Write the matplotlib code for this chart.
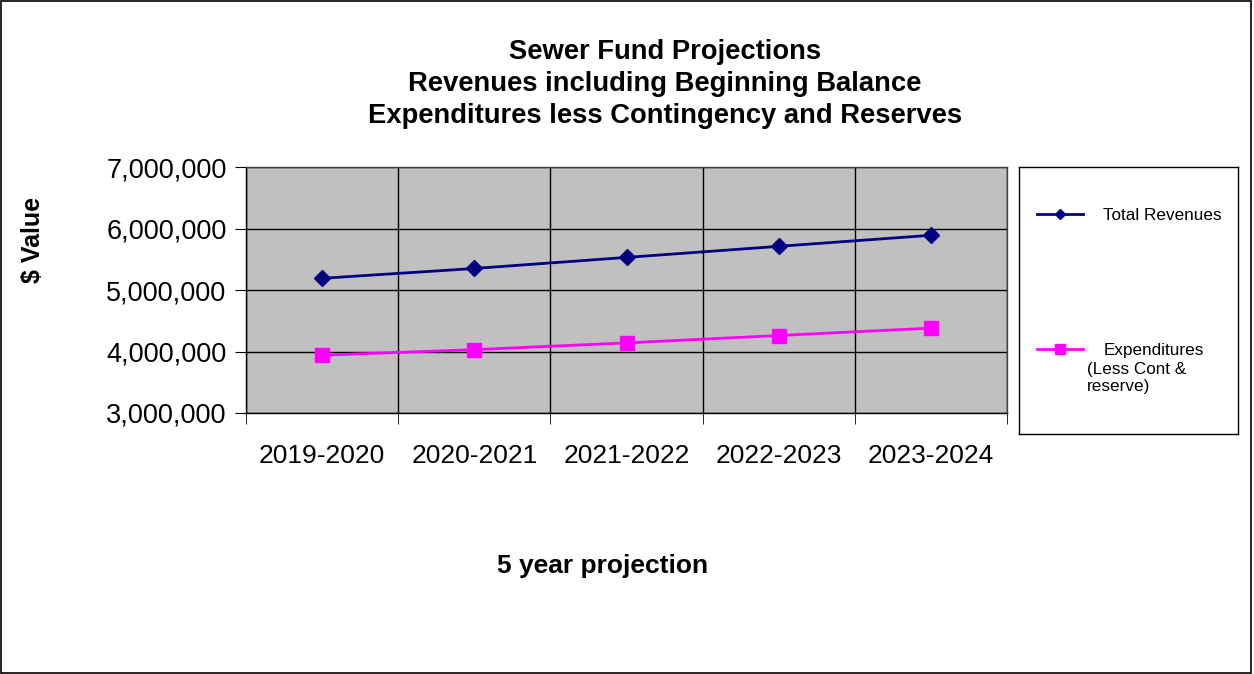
import matplotlib.pyplot as plt
from matplotlib.lines import Line2D
from matplotlib.patches import Rectangle
from matplotlib.ticker import FuncFormatter

plt.rcParams['font.family'] = ['Liberation Sans', 'DejaVu Sans']

years = ['2019-2020', '2020-2021', '2021-2022', '2022-2023', '2023-2024']
total_revenues = [5190000, 5350000, 5530000, 5710000, 5890000]
expenditures = [3940000, 4030000, 4140000, 4260000, 4380000]

fig = plt.figure(figsize=(12.54, 6.74), dpi=100)
fig.patches.append(Rectangle((0.001, 0.001), 0.997, 0.997, transform=fig.transFigure,
                             fill=False, edgecolor='black', lw=1.2))

ax = fig.add_axes([246/1254, 1 - 413/674, 761/1254, 246/674])
ax.set_facecolor('#C0C0C0')
x = list(range(len(years)))
l1, = ax.plot(x, total_revenues, color='#000080', lw=2, marker='D', ms=8,
              label='Total Revenues')
l2, = ax.plot(x, expenditures, color='#FF00FF', lw=2, marker='s', ms=10,
              label='Expenditures')

ax.set_xlim(-0.5, len(years) - 0.5)
ax.set_ylim(3000000, 7000000)
ax.set_yticks([3000000, 4000000, 5000000, 6000000, 7000000])
ax.yaxis.set_major_formatter(FuncFormatter(lambda v, p: f'{int(v):,}'))
ax.set_xticks(x)
ax.set_xticklabels(years)
ax.set_xticks([i - 0.5 for i in range(len(years) + 1)], minor=True)
ax.tick_params(axis='x', which='major', length=0, pad=22, labelsize=19)
ax.tick_params(axis='x', which='minor', length=8, direction='out', color='black')
ax.tick_params(axis='y', length=8, direction='out', pad=6, labelsize=19.5)
ax.grid(True, axis='y', which='major', color='black', lw=1)
ax.grid(True, axis='x', which='minor', color='black', lw=1)
ax.set_axisbelow(True)
for s in ax.spines.values():
    s.set_color('#404040')
    s.set_linewidth(1)
ax.spines['left'].set_color('black')
ax.spines['bottom'].set_color('black')

# legend box
lax = fig.add_axes([1019/1254, 1 - 434/674, 219/1254, 267/674])
lax.set_xticks([])
lax.set_yticks([])
for s in lax.spines.values():
    s.set_color('black')
    s.set_linewidth(1)
h1 = Line2D([], [], color='#000080', lw=2, marker='D', ms=5)
h2 = Line2D([], [], color='#FF00FF', lw=2, marker='s', ms=7)
lax.legend([h1, h2], ['Total Revenues', 'Expenditures'], loc='upper left',
           bbox_to_anchor=(0.01, 0.904), frameon=False, fontsize=12.3,
           handlelength=2.7, handletextpad=1.2, labelspacing=7.0, borderaxespad=0.5)
fig.text(1087/1254, 1 - 362/674, '(Less Cont &\nreserve)', fontsize=12.3,
         ha='left', va='top', linespacing=1.2)

fig.text(665/1254, 1 - 52/674, 'Sewer Fund Projections', fontsize=19.7,
         fontweight='bold', ha='center', va='center')
fig.text(665/1254, 1 - 84/674, 'Revenues including Beginning Balance', fontsize=19.7,
         fontweight='bold', ha='center', va='center')
fig.text(665/1254, 1 - 116/674, 'Expenditures less Contingency and Reserves', fontsize=19.7,
         fontweight='bold', ha='center', va='center')
fig.text(33/1254, 1 - 240/674, '$ Value', fontsize=18, fontweight='bold',
         rotation=90, ha='center', va='center')
fig.text(603/1254, 1 - 566/674, '5 year projection', fontsize=19, fontweight='bold',
         ha='center', va='center')

fig.savefig('out.png', dpi=100)
